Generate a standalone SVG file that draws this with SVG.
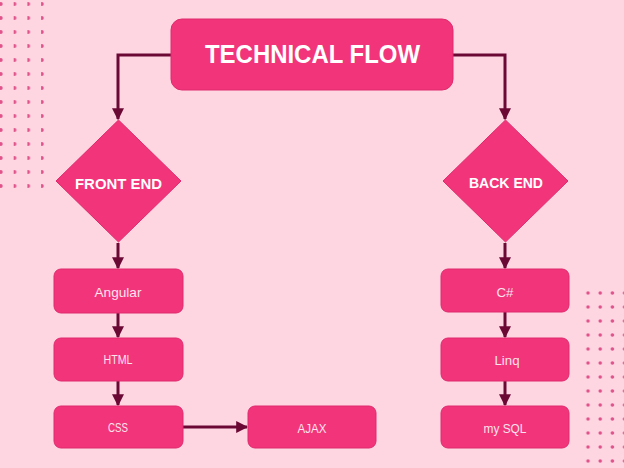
<svg xmlns="http://www.w3.org/2000/svg" width="624" height="468" viewBox="0 0 624 468">
<defs>
<style>
.node{fill:#f2347b;stroke:#e02a6c;stroke-width:1}
.title{font-family:"Liberation Sans",Arial,sans-serif;font-weight:bold;fill:#ffffff}
.lbl{font-family:"Liberation Sans",Arial,sans-serif;fill:#fde3ec;font-size:13px}
.conn{fill:none;stroke:#6b0834;stroke-width:3}
.dot{fill:#e0538a}
</style>
<marker id="ah" viewBox="0 0 10 10" refX="9" refY="5" markerWidth="4" markerHeight="4.2" orient="auto" markerUnits="strokeWidth">
<path d="M0,0 L10,5 L0,10 z" fill="#6b0834"/>
</marker>
<pattern id="dotsL" x="0" y="-3" width="13.7" height="14" patternUnits="userSpaceOnUse">
<circle class="dot" cx="0.8" cy="7" r="1.9"/>
</pattern>
<pattern id="dotsR" x="582" y="286" width="12.2" height="14" patternUnits="userSpaceOnUse">
<circle class="dot" cx="6" cy="7" r="1.8"/>
</pattern>
</defs>
<rect width="624" height="468" fill="#fdd6e2"/>
<rect x="0" y="-3" width="47" height="196" fill="url(#dotsL)"/>
<rect x="582" y="286" width="42" height="182" fill="url(#dotsR)"/>

<g id="connectors">
<path class="conn" d="M171,55 H118 V119" marker-end="url(#ah)"/>
<path class="conn" d="M453,55 H505 V119" marker-end="url(#ah)"/>
<path class="conn" d="M118,243 V268" marker-end="url(#ah)"/>
<path class="conn" d="M118,313 V337" marker-end="url(#ah)"/>
<path class="conn" d="M118,381 V405" marker-end="url(#ah)"/>
<path class="conn" d="M183,427 H247" marker-end="url(#ah)"/>
<path class="conn" d="M505,243 V268" marker-end="url(#ah)"/>
<path class="conn" d="M505,312 V337" marker-end="url(#ah)"/>
<path class="conn" d="M505,381 V405" marker-end="url(#ah)"/>
</g>

<g id="title">
<rect class="node" x="171" y="19" width="282" height="71" rx="11"/>
<text class="title" x="312.5" y="63" font-size="25" text-anchor="middle" textLength="215" lengthAdjust="spacingAndGlyphs">TECHNICAL FLOW</text>
</g>
<g id="frontend">
<polygon class="node" points="118.5,120 181,181 118.5,242 56,181"/>
<text class="title" x="118.5" y="189" font-size="15" text-anchor="middle" textLength="87" lengthAdjust="spacingAndGlyphs">FRONT END</text>
</g>
<g id="backend">
<polygon class="node" points="505.5,120 568,181 505.5,242 443,181"/>
<text class="title" x="506" y="188" font-size="15" text-anchor="middle" textLength="74" lengthAdjust="spacingAndGlyphs">BACK END</text>
</g>
<g id="angular">
<rect class="node" x="54" y="269" width="129" height="44" rx="7"/>
<text class="lbl" x="118" y="297" text-anchor="middle" textLength="47" lengthAdjust="spacingAndGlyphs">Angular</text>
</g>
<g id="html">
<rect class="node" x="54" y="338" width="129" height="43" rx="7"/>
<text class="lbl" x="118" y="364" font-size="12" text-anchor="middle" textLength="29" lengthAdjust="spacingAndGlyphs">HTML</text>
</g>
<g id="css">
<rect class="node" x="54" y="406" width="129" height="42" rx="7"/>
<text class="lbl" x="118" y="432" font-size="12" text-anchor="middle" textLength="20" lengthAdjust="spacingAndGlyphs">CSS</text>
</g>
<g id="ajax">
<rect class="node" x="248" y="406" width="128" height="42" rx="7"/>
<text class="lbl" x="312" y="433" font-size="15" text-anchor="middle" textLength="29" lengthAdjust="spacingAndGlyphs">AJAX</text>
</g>
<g id="csharp">
<rect class="node" x="441" y="269" width="128" height="43" rx="7"/>
<text class="lbl" x="505" y="297" font-size="14" text-anchor="middle" textLength="17" lengthAdjust="spacingAndGlyphs">C#</text>
</g>
<g id="linq">
<rect class="node" x="441" y="338" width="128" height="43" rx="7"/>
<text class="lbl" x="507" y="365" font-size="15" text-anchor="middle" textLength="25" lengthAdjust="spacingAndGlyphs">Linq</text>
</g>
<g id="mysql">
<rect class="node" x="441" y="406" width="128" height="42" rx="7"/>
<text class="lbl" x="505" y="433" font-size="14" text-anchor="middle" textLength="43" lengthAdjust="spacingAndGlyphs">my SQL</text>
</g>
</svg>
